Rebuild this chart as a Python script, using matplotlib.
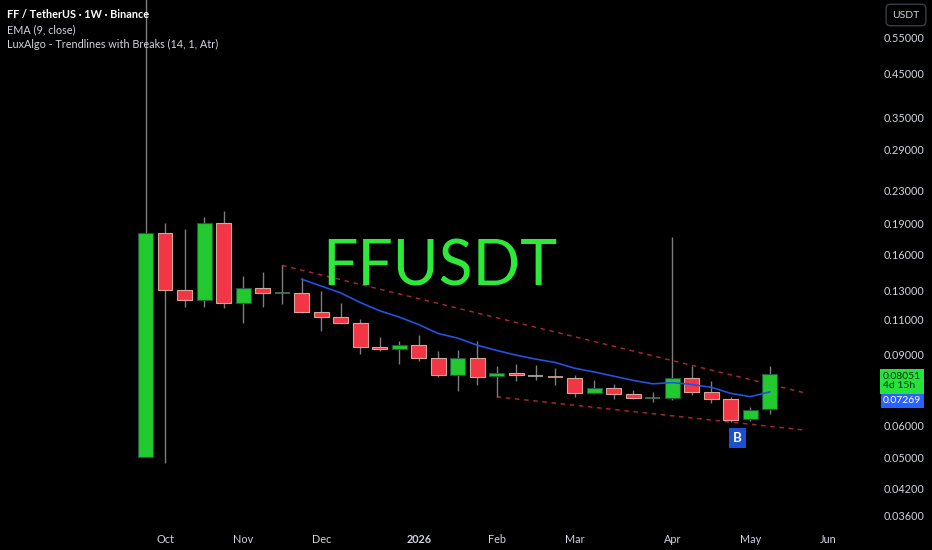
import matplotlib
matplotlib.use('Agg')
import matplotlib.pyplot as plt
import numpy as np
import pandas as pd

# weekly FF/USDT candles, first bar = week of 2025-09-29
first_week = '2025-09-29'
opens = [0.0503, 0.180, 0.130, 0.123, 0.191, 0.1208, 0.1316, 0.1280, 0.1279, 0.1151,
         0.1119, 0.1077, 0.0942, 0.0932, 0.0953, 0.0883, 0.0802, 0.0885, 0.0796, 0.0812,
         0.0799, 0.0796, 0.0790, 0.0722, 0.0746, 0.0721, 0.0701, 0.0702, 0.0790, 0.0726,
         0.0699, 0.0622, 0.0659]
highs = [0.800, 0.191, 0.185, 0.198, 0.205, 0.141, 0.1444, 0.150, 0.1393, 0.1298,
         0.121, 0.1102, 0.0994, 0.0974, 0.1008, 0.0920, 0.0924, 0.0974, 0.0844, 0.0854,
         0.0848, 0.0833, 0.0804, 0.0779, 0.0760, 0.0738, 0.0726, 0.176, 0.0844, 0.0775,
         0.0707, 0.0669, 0.0844]
lows = [0.0503, 0.0484, 0.118, 0.118, 0.1175, 0.1077, 0.1185, 0.120, 0.1146, 0.1031,
        0.1075, 0.0904, 0.0921, 0.0852, 0.0870, 0.0795, 0.0733, 0.0757, 0.0708, 0.0776,
        0.0779, 0.0757, 0.0708, 0.0719, 0.0698, 0.0698, 0.0689, 0.0695, 0.0716, 0.0682,
        0.0614, 0.0618, 0.0641]
closes = [0.180, 0.130, 0.123, 0.191, 0.1208, 0.1316, 0.1280, 0.1282, 0.1151, 0.1119,
          0.1077, 0.0942, 0.0932, 0.0953, 0.0883, 0.0802, 0.0885, 0.0794, 0.0810, 0.0800,
          0.0799, 0.0794, 0.0722, 0.0746, 0.0719, 0.0702, 0.0702, 0.0790, 0.0726, 0.0699,
          0.0621, 0.0655, 0.08051]

# LuxAlgo trendlines: (start bar, start price, end bar, end price)
upper_line = (7, 0.150, 33.7, 0.0726)
lower_line = (18, 0.0708, 33.7, 0.0586)
break_bar, break_price = 30.35, 0.0559

price_ticks = [0.55, 0.45, 0.35, 0.29, 0.23, 0.19, 0.16, 0.13, 0.11, 0.09, 0.06, 0.05, 0.042, 0.036]
ema_len = 9
last_ema_label = '0.07269'
countdown = '4d 15h'

GREEN = '#22c92f'
RED = '#f23645'
TXT = '#d1d4dc'
FONT = 'Lato'

n = len(closes)
weeks = pd.date_range(first_week, periods=n + 4, freq='7D')

# EMA seeded with SMA like TradingView
ema = [np.nan] * n
ema[ema_len - 1] = np.mean(closes[:ema_len])
k = 2 / (ema_len + 1)
for i in range(ema_len, n):
    ema[i] = closes[i] * k + ema[i - 1] * (1 - k)

fig = plt.figure(figsize=(9.32, 5.5), dpi=100, facecolor='black')
ax = fig.add_axes([0, 23 / 550, 870 / 932, 527 / 550])
ax.set_facecolor('black')
ax.set_yscale('log')

x = np.arange(n)
w = 0.75
for i in range(n):
    o, h, l, c = opens[i], highs[i], lows[i], closes[i]
    ax.vlines(i, l, h, color='#7d7d7d', linewidth=1, zorder=2)
    if abs(c - o) / o < 0.004:
        col = '#b0b0b0' if c == o else ('#4a7a58' if c > o else '#dba89c')
        ax.hlines((o + c) / 2, i - w / 2, i + w / 2, color=col, linewidth=1.2, zorder=3)
    elif c > o:
        ax.bar(i, c - o, bottom=o, width=w, color=GREEN, edgecolor='#1d5a3c', linewidth=0.8, zorder=3)
    else:
        ax.bar(i, o - c, bottom=c, width=w, color=RED, edgecolor='#d9a79a', linewidth=0.8, zorder=3)

ax.plot(x, ema, color='#2352e0', linewidth=1.2, zorder=4)

for s_bar, s_p, e_bar, e_p in (upper_line, lower_line):
    ax.plot([s_bar, e_bar], [s_p, e_p], color='#a3262c', linewidth=1.1,
            dashes=(3, 3), zorder=1)

ax.text(break_bar, break_price, 'B', color='white', fontsize=9.5, fontweight='bold',
        ha='center', va='center', family=FONT, zorder=5,
        bbox=dict(boxstyle='square,pad=0.3', fc='#1c4fd4', ec='none'))

ax.set_xlim(-7.47, 37.14)
ax.set_ylim(0.03366, 0.683)

# month ticks at first weekly bar of each month
tick_pos, tick_lab = [], []
for i in range(1, len(weeks)):
    if weeks[i].month != weeks[i - 1].month:
        tick_pos.append(i)
        tick_lab.append(str(weeks[i].year) if weeks[i].month == 1 else weeks[i].strftime('%b'))
ax.set_xticks(tick_pos)
ax.set_xticklabels(tick_lab)
for t, lab in zip(ax.get_xticklabels(), tick_lab):
    if lab.isdigit():
        t.set_fontweight('bold')

ax.yaxis.tick_right()
ax.set_yticks(price_ticks)
ax.set_yticklabels([f'{p:.5f}' for p in price_ticks])
ax.yaxis.set_minor_locator(matplotlib.ticker.NullLocator())
ax.tick_params(axis='y', length=0, pad=10, labelsize=7.8, labelcolor=TXT)
ax.tick_params(axis='x', length=0, pad=5, labelsize=7.8, labelcolor=TXT)
for t in ax.get_xticklabels() + ax.get_yticklabels():
    t.set_family(FONT)
for sp in ax.spines.values():
    sp.set_visible(False)

# last price / ema labels on the price scale
ax.annotate(f'{closes[-1]:.5f}\n{countdown}', xy=(1, closes[-1]), xycoords=('axes fraction', 'data'),
            xytext=(9.5, -5.0), textcoords='offset points', ha='left', va='center',
            fontsize=7.5, color='#0b2a10', family=FONT, linespacing=1.05,
            bbox=dict(boxstyle='square,pad=0.3', fc='#27e23d', ec='none'), annotation_clip=False)
ax.annotate(last_ema_label, xy=(1, ema[-1]), xycoords=('axes fraction', 'data'),
            xytext=(9.5, -6.5), textcoords='offset points', ha='left', va='center',
            fontsize=7.5, color='white', family=FONT,
            bbox=dict(boxstyle='square,pad=0.2', fc='#2962ff', ec='none'), annotation_clip=False)

fig.text(906 / 932, 1 - 15 / 550, 'USDT', color=TXT, fontsize=7.5, family=FONT,
         ha='center', va='center',
         bbox=dict(boxstyle='round,pad=0.6,rounding_size=0.4', fc='black', ec='#3a3d45', lw=1))

fig.text(7 / 932, 1 - 15 / 550, 'FF / TetherUS · 1W · Binance', color='white', fontsize=7.8,
         fontweight='bold', family=FONT, va='center')
fig.text(7 / 932, 1 - 30 / 550, 'EMA (9, close)', color=TXT, fontsize=7.8,
         family=FONT, va='center')
fig.text(7 / 932, 1 - 44 / 550, 'LuxAlgo - Trendlines with Breaks (14, 1, Atr)', color=TXT,
         fontsize=7.8, family=FONT, va='center')

fig.text(440 / 932, 1 - 286 / 550, 'FFUSDT', color='#2ee83a', fontsize=45,
         family=FONT, ha='center', va='baseline')

fig.savefig('out.png', dpi=100, facecolor='black')
